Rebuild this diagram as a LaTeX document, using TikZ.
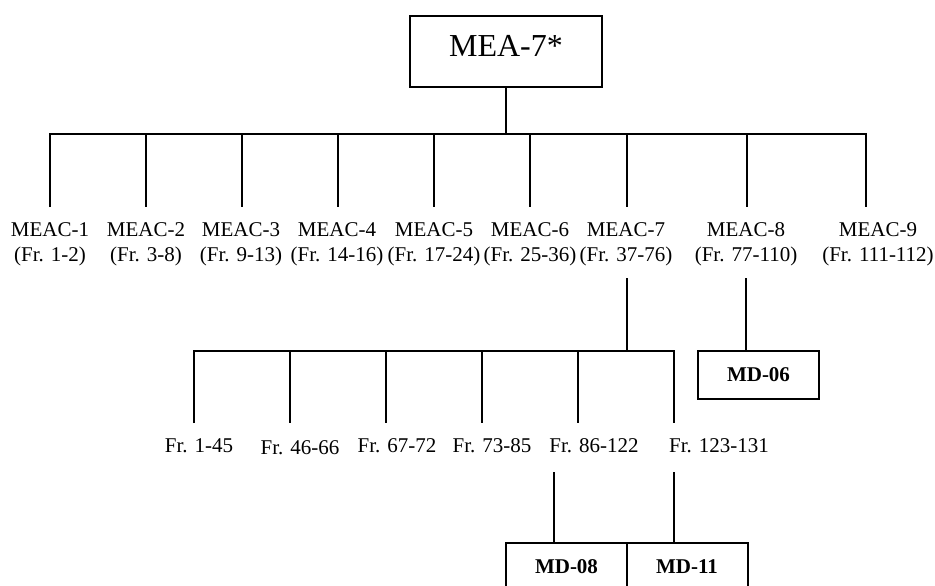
\documentclass[tikz,border=0pt]{standalone}
\usepackage{fontspec}
\setmainfont{Liberation Serif}
\begin{document}
\begin{tikzpicture}[x=1pt,y=-1pt,
  conn/.style={line width=1.5pt, line join=miter},
  mdbox/.style={draw, line width=2pt, minimum width=121pt, minimum height=48pt,
    inner sep=0pt, font=\fontsize{21}{25}\selectfont\bfseries},
  lbl/.style={anchor=base, inner sep=0pt, font=\fontsize{21}{25}\selectfont}]
\useasboundingbox (0,0) rectangle (935,586);
\clip (0,0) rectangle (935,586);

% root box
\node[draw, line width=2pt, minimum width=192pt, minimum height=71pt, inner sep=0pt,
  text depth=11pt, font=\fontsize{32}{38}\selectfont] (root) at (506,51.5) {MEA-7*};

% first level: bar and drops
\coordinate (bar) at (506,134);
\foreach \i/\x in {1/50,2/146,3/242,4/338,5/434,6/530,7/627,8/747,9/866}{
  \coordinate (t\i) at (\x,134);
  \coordinate (e\i) at (\x,207);
}
\draw[conn] (root.south) -- (bar);
\draw[conn] (e1) -- (t1) -- (t9) -- (e9);
\foreach \i in {2,...,8}{ \draw[conn] (t\i) -- (e\i); }

% first level labels
\foreach \i/\x/\r in {1/50/1-2,2/146/3-8,3/241/9-13,4/337/14-16,5/434/17-24,
    6/530/25-36,7/626/37-76,8/746/77-110,9/878/111-112}{
  \node[lbl] (meac\i) at (\x,236) {MEAC-\i};
  \node[lbl] (range\i) at (\x,261) {(Fr. \r)};
}

% MEAC-7 branch
\coordinate (s7a) at (627,278);
\coordinate (s7b) at (627,351);
\draw[conn] (s7a) -- (s7b);
\foreach \i/\x in {1/194,2/290,3/386,4/482,5/578,6/674}{
  \coordinate (u\i) at (\x,351);
  \coordinate (v\i) at (\x,423);
}
\draw[conn] (v1) -- (u1) -- (u6) -- (v6);
\foreach \i in {2,...,5}{ \draw[conn] (u\i) -- (v\i); }

\node[lbl] (fr1) at (199,452) {Fr. 1-45};
\node[lbl] (fr2) at (300,454) {Fr. 46-66};
\node[lbl] (fr3) at (397,452) {Fr. 67-72};
\node[lbl] (fr4) at (492,452) {Fr. 73-85};
\node[lbl] (fr5) at (594,452) {Fr. 86-122};
\node[lbl] (fr6) at (719,452) {Fr. 123-131};

% MEAC-8 branch
\node[mdbox] (md06) at (758.5,375) {MD-06};
\coordinate (s8) at (746,278);
\draw[conn] (s8) -- (s8 |- md06.north);

% sub-branches to MD-08 and MD-11
\node[mdbox] (md08) at (566.5,567) {MD-08};
\node[mdbox] (md11) at (687,567) {MD-11};
\coordinate (w5) at (554,472);
\coordinate (w6) at (674,472);
\draw[conn] (w5) -- (w5 |- md08.north);
\draw[conn] (w6) -- (w6 |- md11.north);
\end{tikzpicture}
\end{document}
